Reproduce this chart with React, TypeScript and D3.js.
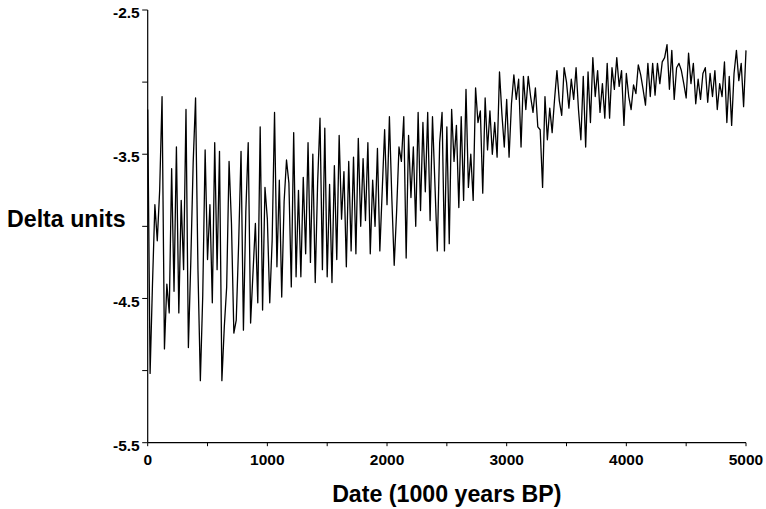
import React from 'react';
import * as d3 from 'd3';

// Time series, one value every 20 years from 0 to 5000 (1000 years BP)
const START_YEAR = 0;
const STEP_YEARS = 20;
const deltaValues: number[] = [
  -3.19, -5.02, -4.40, -3.85, -4.10, -3.75, -3.10, -4.85, -4.40, -4.60,
  -3.60, -4.45, -3.45, -4.60, -3.82, -4.30, -3.19, -4.84, -4.25, -3.56,
  -3.11, -4.30, -5.07, -4.48, -3.47, -4.23, -3.85, -4.53, -3.42, -4.30,
  -3.48, -5.07, -4.70, -4.42, -3.55, -3.98, -4.74, -4.65, -4.12, -3.48,
  -4.72, -3.90, -3.42, -4.67, -4.32, -3.98, -4.53, -3.31, -4.58, -3.73,
  -3.95, -4.53, -4.10, -3.21, -4.28, -3.68, -4.49, -3.83, -3.54, -3.70,
  -4.42, -3.35, -4.35, -3.75, -4.35, -3.66, -4.19, -3.42, -4.25, -3.50,
  -4.39, -3.70, -3.25, -4.30, -3.32, -4.35, -3.71, -4.39, -3.58, -4.23,
  -3.37, -3.95, -3.62, -4.28, -3.55, -4.17, -3.52, -4.19, -3.39, -4.00,
  -3.53, -3.96, -3.42, -4.19, -3.68, -4.00, -3.46, -4.17, -3.75, -3.33,
  -3.85, -3.24, -3.80, -4.27, -3.90, -3.45, -3.55, -3.24, -4.22, -3.37,
  -3.80, -3.45, -4.00, -3.21, -3.89, -3.28, -3.76, -3.21, -3.96, -3.24,
  -3.70, -4.17, -3.42, -3.21, -4.17, -3.31, -4.12, -3.19, -3.55, -3.30,
  -3.87, -3.24, -3.82, -3.05, -3.73, -3.50, -3.82, -3.04, -3.28, -3.20,
  -3.77, -3.11, -3.47, -3.20, -3.50, -3.28, -3.52, -2.93, -3.22, -3.45,
  -3.12, -3.52, -3.15, -2.95, -3.12, -2.98, -3.45, -2.96, -3.19, -2.96,
  -3.10, -3.21, -3.04, -3.31, -3.33, -3.73, -3.10, -3.40, -3.18, -3.35,
  -3.12, -2.92, -3.13, -3.23, -2.90, -3.00, -3.18, -2.98, -3.12, -2.90,
  -3.19, -3.40, -2.96, -3.45, -2.93, -3.28, -2.83, -3.10, -2.92, -3.21,
  -3.01, -3.25, -2.87, -3.25, -2.90, -3.05, -2.83, -3.03, -2.92, -3.30,
  -2.94, -3.10, -3.19, -3.02, -3.08, -2.88, -2.95, -3.05, -3.16, -2.87,
  -3.10, -2.87, -3.09, -2.87, -3.01, -2.86, -2.83, -2.74, -3.05, -2.78,
  -3.12, -2.90, -2.87, -2.92, -3.01, -3.11, -2.80, -3.01, -2.87, -3.15,
  -2.98, -3.12, -2.94, -2.90, -3.14, -2.94, -3.10, -2.92, -3.19, -3.01,
  -3.10, -2.86, -3.28, -2.96, -3.30, -2.94, -2.78, -2.99, -2.87, -3.17,
  -2.78,
];

const xTickValues = [0, 500, 1000, 1500, 2000, 2500, 3000, 3500, 4000, 4500, 5000];
const xTickLabels = ['0', '', '1000', '', '2000', '', '3000', '', '4000', '', '5000'];
const yTickValues = [-5.5, -5, -4.5, -4, -3.5, -3, -2.5];
const yTickLabels = ['-5.5', '', '-4.5', '', '-3.5', '', '-2.5'];

const xTitle = 'Date (1000 years BP)';
const yTitle = 'Delta units';

const W = 766;
const H = 509;
const FONT = '"Liberation Sans", Arial, Helvetica, sans-serif';

export default function App() {
  const x = d3.scaleLinear().domain([0, 5000]).range([147.7, 746]);
  const y = d3.scaleLinear().domain([-5.5, -2.5]).range([442.7, 10]);

  const data = deltaValues.map((v, i) => ({ year: START_YEAR + i * STEP_YEARS, v }));
  const line = d3
    .line<{ year: number; v: number }>()
    .x((d) => x(d.year))
    .y((d) => y(d.v));

  const x0 = x(0);
  const yBase = y(-5.5);

  return (
    <svg
      width={W}
      height={H}
      style={{ position: 'absolute', left: 0, top: 0, background: '#fff' }}
      fontFamily={FONT}
    >
      <rect x={0} y={0} width={W} height={H} fill="#fff" />
      {/* data line */}
      <path d={line(data) || ''} fill="none" stroke="#000" strokeWidth={1.3} strokeLinejoin="round" />

      {/* y axis */}
      <line x1={x0} x2={x0} y1={y(-2.5)} y2={yBase} stroke="#000" strokeWidth={1.2} />
      {yTickValues.map((t, i) => (
        <g key={'yt' + i}>
          <line x1={x0 - 5.5} x2={x0} y1={y(t)} y2={y(t)} stroke="#000" strokeWidth={1} />
          {yTickLabels[i] && (
            <text
              x={x0 - 8}
              y={y(t) + 4}
              textAnchor="end"
              dominantBaseline="middle"
              fontSize={15.5}
              fontWeight="bold"
              fill="#000"
            >
              {yTickLabels[i]}
            </text>
          )}
        </g>
      ))}

      {/* x axis */}
      <line x1={x0} x2={x(5000)} y1={yBase} y2={yBase} stroke="#000" strokeWidth={1.2} />
      {xTickValues.map((t, i) => (
        <g key={'xt' + i}>
          <line x1={x(t)} x2={x(t)} y1={yBase} y2={yBase + 3.5} stroke="#000" strokeWidth={1} />
          {xTickLabels[i] && (
            <text
              x={x(t)}
              y={yBase + 18}
              textAnchor="middle"
              dominantBaseline="middle"
              fontSize={15.5}
              fontWeight="bold"
              fill="#000"
            >
              {xTickLabels[i]}
            </text>
          )}
        </g>
      ))}

      {/* titles */}
      <text x={7} y={227.3} fontSize={23.2} fontWeight="bold" fill="#000">
        {yTitle}
      </text>
      <text x={(x(0) + x(5000)) / 2} y={502} textAnchor="middle" fontSize={23.2} fontWeight="bold" fill="#000">
        {xTitle}
      </text>
    </svg>
  );
}
